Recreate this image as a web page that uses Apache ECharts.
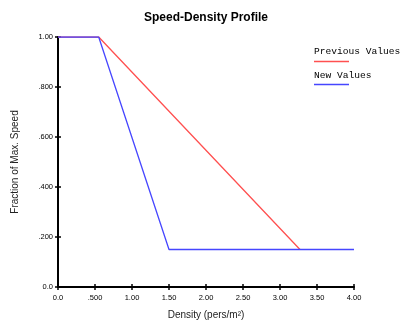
<!DOCTYPE html>
<html>
<head>
<meta charset="utf-8">
<script src="https://cdn.jsdelivr.net/npm/echarts@6/dist/echarts.min.js"></script>
<style>
  html, body { margin: 0; padding: 0; background: #fff; }
  #chart { width: 412px; height: 325px; }
</style>
</head>
<body>
<div id="chart"></div>
<script>
// Speed-density relation: density (pers/m²) against fraction of max. speed
const previousDensity = [0, 0.55, 3.27];
const previousSpeed   = [1.00, 1.00, 0.15];
const newDensity      = [0, 0.55, 1.50, 4.00];
const newSpeed        = [1.00, 1.00, 0.15, 0.15];

const xTickLabels = ['0.0', '.500', '1.00', '1.50', '2.00', '2.50', '3.00', '3.50', '4.00'];
const yTickLabels = ['0.0', '.200', '.400', '.600', '.800', '1.00'];

const seriesNames = ['Previous Values', 'New Values'];
const seriesColors = ['#ff5050', '#4646ff'];

const pairs = (xs, ys) => xs.map((x, i) => [x, ys[i]]);

const tickFont = { fontFamily: '"Liberation Sans Narrow", "Liberation Sans", Arial, sans-serif', fontSize: 7.5, color: '#000' };

function xLabel(v) { return xTickLabels[Math.round(v / 0.5)] ?? ''; }
function yLabel(v) { return yTickLabels[Math.round(v / 0.2)] ?? ''; }

const chart = echarts.init(document.getElementById('chart'), null, { renderer: 'canvas' });

const xBase = { type: 'value', min: 0, max: 4, interval: 0.5, position: 'bottom', splitLine: { show: false } };
const yBase = { type: 'value', min: 0, max: 1, interval: 0.2, position: 'left', splitLine: { show: false } };

chart.setOption({
  animation: false,
  backgroundColor: '#fff',
  title: {
    text: 'Speed-Density Profile',
    left: 'center',
    top: 7,
    textStyle: { fontFamily: '"Liberation Sans", Arial, sans-serif', fontSize: 12, fontWeight: 'bold', color: '#000' }
  },
  grid: { left: 58, right: 58, top: 37, bottom: 33 },
  xAxis: [
    Object.assign({}, xBase, {
      name: 'Density (pers/m²)',
      nameLocation: 'middle',
      nameGap: 23,
      nameTextStyle: { fontFamily: '"Liberation Sans", Arial, sans-serif', fontSize: 10, color: '#222' },
      axisLine: { show: true, lineStyle: { color: '#000', width: 2 } },
      axisTick: { show: true, length: 3, lineStyle: { color: '#000', width: 1.5 } },
      axisLabel: Object.assign({ margin: 7, formatter: xLabel }, tickFont)
    }),
    Object.assign({}, xBase, {
      axisLine: { show: false },
      axisTick: { show: true, inside: true, length: 3, lineStyle: { color: '#000', width: 1.5 } },
      axisLabel: { show: false }
    })
  ],
  yAxis: [
    Object.assign({}, yBase, {
      name: 'Fraction of Max. Speed',
      nameLocation: 'middle',
      nameGap: 38,
      nameTextStyle: { fontFamily: '"Liberation Sans", Arial, sans-serif', fontSize: 10, color: '#222' },
      axisLine: { show: true, lineStyle: { color: '#000', width: 2 } },
      axisTick: { show: true, length: 3, lineStyle: { color: '#000', width: 1.5 } },
      axisLabel: Object.assign({ margin: 5, formatter: yLabel }, tickFont)
    }),
    Object.assign({}, yBase, {
      axisLine: { show: false },
      axisTick: { show: true, inside: true, length: 3, lineStyle: { color: '#000', width: 1.5 } },
      axisLabel: { show: false }
    })
  ],
  series: [
    {
      name: seriesNames[0],
      type: 'line',
      data: pairs(previousDensity, previousSpeed),
      showSymbol: false,
      lineStyle: { color: seriesColors[0], width: 1.3 },
      z: 2
    },
    {
      name: seriesNames[1],
      type: 'line',
      data: pairs(newDensity, newSpeed),
      showSymbol: false,
      lineStyle: { color: seriesColors[1], width: 1.3 },
      z: 3
    }
  ],
  graphic: seriesNames.flatMap((name, i) => [
    {
      type: 'text',
      left: 314,
      top: 46 + i * 24,
      style: {
        text: name,
        fill: '#000',
        font: '9.6px "Liberation Mono", "DejaVu Sans Mono", monospace'
      }
    },
    {
      type: 'line',
      shape: { x1: 314, y1: 61.5 + i * 23, x2: 349, y2: 61.5 + i * 23 },
      style: { stroke: seriesColors[i], lineWidth: 1.5 }
    }
  ])
});
</script>
</body>
</html>
